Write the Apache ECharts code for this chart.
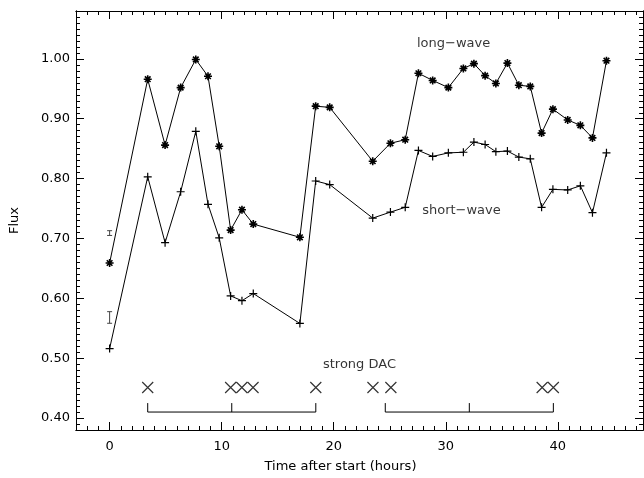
<!DOCTYPE html>
<html>
<head>
<meta charset="utf-8">
<script src="https://cdn.jsdelivr.net/npm/echarts@6/dist/echarts.min.js"></script>
<style>
  html, body { margin:0; padding:0; background:#fff; }
  #main { width:644px; height:478px; }
</style>
</head>
<body>
<div id="main"></div>
<script>
// times of the spectra (hours after start)
var hours = [0, 3.40, 4.95, 6.34, 7.69, 8.78, 9.78, 10.80, 11.81, 12.82, 16.98, 18.39, 19.64,
  23.48, 25.06, 26.38, 27.56, 28.83, 30.23, 31.57, 32.51, 33.51, 34.47, 35.50, 36.52, 37.54,
  38.55, 39.56, 40.88, 42.01, 43.09, 44.34];
var longWave = [0.659, 0.966, 0.856, 0.952, 0.999, 0.971, 0.854, 0.714, 0.748, 0.724, 0.702, 0.921, 0.919,
  0.829, 0.859, 0.865, 0.976, 0.964, 0.952, 0.984, 0.992, 0.972, 0.959, 0.993, 0.956, 0.954,
  0.876, 0.916, 0.898, 0.889, 0.868, 0.997];
var shortWave = [0.516, 0.803, 0.693, 0.778, 0.879, 0.757, 0.701, 0.604, 0.596, 0.608, 0.558, 0.796, 0.790,
  0.734, 0.744, 0.752, 0.847, 0.837, 0.843, 0.844, 0.861, 0.857, 0.845, 0.846, 0.836, 0.833,
  0.752, 0.782, 0.781, 0.788, 0.743, 0.843];

// typical error bars, drawn at t=0
var errX = [0, 0];
var errY = [0.709, 0.568];
var errSize = [0.004, 0.0097];

// strong DAC times and the two brackets
var dacTimes = [3.4, 10.8, 11.8, 12.8, 18.4, 23.5, 25.1, 38.6, 39.6];
var dacLevel = 0.451;
var bracketStart = [3.4, 24.6];
var bracketEnd = [18.4, 39.6];
var bracketLow = 0.410, bracketHigh = 0.425;

var xTicks = [0, 10, 20, 30, 40];
var yTicks = [0.40, 0.50, 0.60, 0.70, 0.80, 0.90, 1.00];

// text notes [x, y, text]
var notes = [
  [30.7, 1.025, 'long\u2212wave'],
  [31.4, 0.746, 'short\u2212wave'],
  [22.3, 0.490, 'strong DAC']
];

var xMin = -3, xMax = 47.6, yMin = 0.38, yMax = 1.08;

var xMinor = [];
for (var i = -3; i <= 47; i++) xMinor.push(i);
var yMinor = [];
for (var j = 38; j <= 108; j++) yMinor.push(Math.round(j) / 100);

var font = 'DejaVu Sans';
var ink = '#000';

function pairs(xs, ys) {
  var out = [];
  for (var k = 0; k < xs.length; k++) out.push([xs[k], ys[k]]);
  return out;
}

function xAx(pos, ticks, len, labels) {
  return {
    type: 'value', position: pos, min: xMin, max: xMax,
    axisLine: { show: true, onZero: false, lineStyle: { color: ink, width: 1 } },
    axisTick: { show: true, inside: true, length: len, customValues: ticks, lineStyle: { color: ink } },
    axisLabel: labels ? { show: true, customValues: ticks, margin: 10, color: ink, fontFamily: font, fontSize: 13,
      formatter: function (v) { return String(Math.round(v)); } } : { show: false },
    splitLine: { show: false }
  };
}
function yAx(pos, ticks, len, labels) {
  return {
    type: 'value', position: pos, min: yMin, max: yMax,
    axisLine: { show: true, onZero: false, lineStyle: { color: ink, width: 1 } },
    axisTick: { show: true, inside: true, length: len, customValues: ticks, lineStyle: { color: ink } },
    axisLabel: labels ? { show: true, customValues: ticks, margin: 6, color: ink, fontFamily: font, fontSize: 13,
      formatter: function (v) { return v.toFixed(2); } } : { show: false },
    splitLine: { show: false }
  };
}

var xAxes = [xAx('bottom', xTicks, 8, true), xAx('bottom', xMinor, 4, false),
             xAx('top', xTicks, 8, false), xAx('top', xMinor, 4, false)];
xAxes[0].name = 'Time after start (hours)';
xAxes[0].nameLocation = 'middle';
xAxes[0].nameGap = 30;
xAxes[0].nameTextStyle = { color: ink, fontFamily: font, fontSize: 13, padding: [0, 38, 0, 0] };

var yAxes = [yAx('left', yTicks, 8, true), yAx('left', yMinor, 4, false),
             yAx('right', yTicks, 8, false), yAx('right', yMinor, 4, false)];
yAxes[0].name = 'Flux';
yAxes[0].nameLocation = 'middle';
yAxes[0].nameGap = 55;
yAxes[0].nameTextStyle = { color: ink, fontFamily: font, fontSize: 13 };

var asterisk = 'path://M0,5L10,5M5,0L5,10M1.5,1.5L8.5,8.5M1.5,8.5L8.5,1.5';
var plus = 'path://M0,5L10,5M5,0L5,10';
var cross = 'path://M0,0L10,10M0,10L10,0';

var myChart = echarts.init(document.getElementById('main'));
var option = {
  backgroundColor: '#fff',
  animation: false,
  grid: { left: 76, right: 1, top: 11, bottom: 47, containLabel: false },
  xAxis: xAxes,
  yAxis: yAxes,
  series: [
    {
      type: 'line', data: pairs(hours, longWave),
      symbol: asterisk, symbolSize: 8, showAllSymbol: true,
      lineStyle: { color: ink, width: 1 },
      itemStyle: { color: ink, borderColor: ink, borderWidth: 1.6 },
      emphasis: { disabled: true }
    },
    {
      type: 'line', data: pairs(hours, shortWave),
      symbol: plus, symbolSize: 8, showAllSymbol: true,
      lineStyle: { color: ink, width: 1 },
      itemStyle: { color: ink, borderColor: ink, borderWidth: 1.2 },
      emphasis: { disabled: true }
    },
    {
      // error bars
      type: 'custom',
      data: errX.map(function (x, k) { return [x, errY[k], errSize[k]]; }),
      renderItem: function (params, api) {
        var x = api.value(0), y = api.value(1), e = api.value(2);
        var top = api.coord([x, y + e]);
        var bot = api.coord([x, y - e]);
        var style = { stroke: '#444', lineWidth: 1 };
        return { type: 'group', children: [
          { type: 'line', shape: { x1: top[0], y1: top[1], x2: bot[0], y2: bot[1] }, style: style },
          { type: 'line', shape: { x1: top[0] - 2.5, y1: top[1], x2: top[0] + 2.5, y2: top[1] }, style: style },
          { type: 'line', shape: { x1: bot[0] - 2.5, y1: bot[1], x2: bot[0] + 2.5, y2: bot[1] }, style: style }
        ] };
      },
      silent: true
    },
    {
      // DAC markers
      type: 'scatter', data: dacTimes.map(function (t) { return [t, dacLevel]; }),
      symbol: cross, symbolSize: 11,
      itemStyle: { color: 'none', borderColor: ink, borderWidth: 1.2 },
      emphasis: { disabled: true }, silent: true
    },
    {
      // brackets under the DAC markers
      type: 'custom',
      data: bracketStart.map(function (s, k) { return [s, bracketEnd[k]]; }),
      renderItem: function (params, api) {
        var s = api.value(0), e = api.value(1), m = (s + e) / 2;
        var a = api.coord([s, bracketHigh]), b = api.coord([s, bracketLow]);
        var c = api.coord([e, bracketLow]), d = api.coord([e, bracketHigh]);
        var m1 = api.coord([m, bracketLow]), m2 = api.coord([m, bracketHigh]);
        var style = { stroke: ink, lineWidth: 1, fill: null };
        return { type: 'group', children: [
          { type: 'polyline', shape: { points: [a, b, c, d] }, style: style },
          { type: 'line', shape: { x1: m1[0], y1: m1[1], x2: m2[0], y2: m2[1] }, style: style }
        ] };
      },
      silent: true
    },
    {
      // text notes
      type: 'scatter', data: notes.map(function (n) { return { value: [n[0], n[1]], name: n[2] }; }),
      symbolSize: 1, itemStyle: { color: 'rgba(0,0,0,0)' },
      label: { show: true, position: 'inside', formatter: '{b}', color: ink, fontFamily: font, fontSize: 13 },
      emphasis: { disabled: true }, silent: true
    }
  ]
};
myChart.setOption(option);
</script>
</body>
</html>
